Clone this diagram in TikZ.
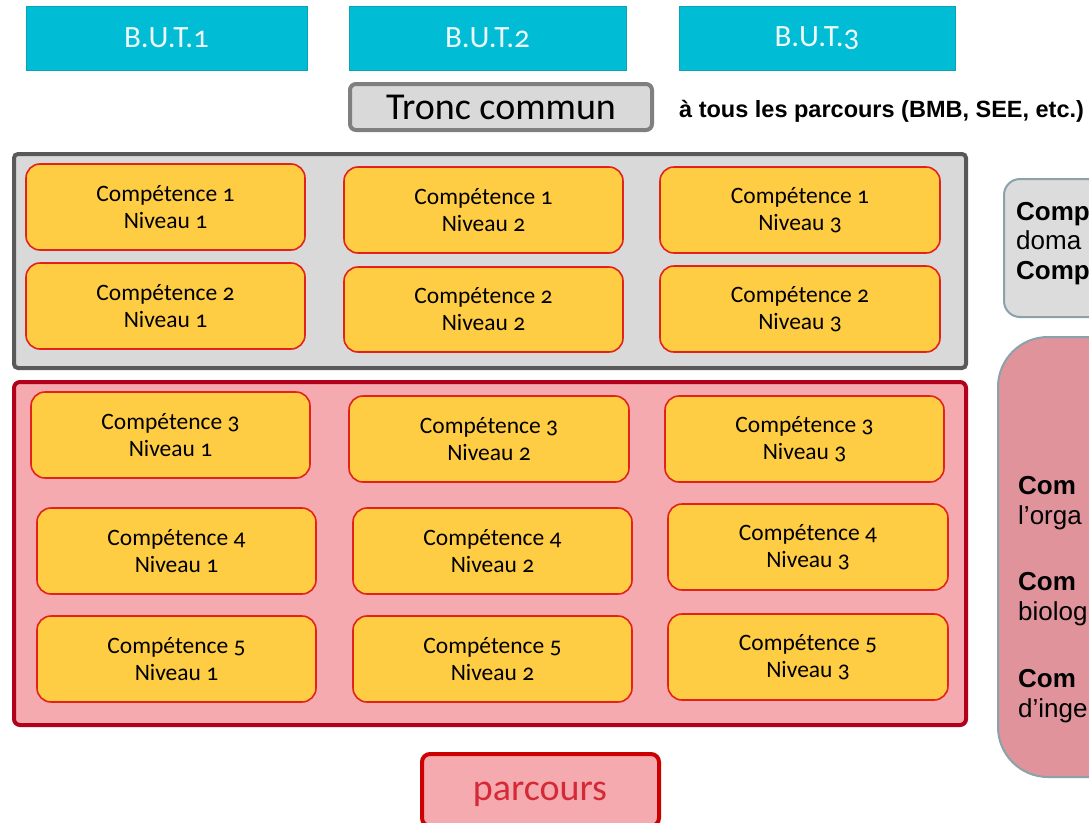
\documentclass[tikz,border=0pt]{standalone}
\usepackage{fontspec}
\setmainfont{Carlito}[Numbers=OldStyle]
\newfontfamily\arialf{Liberation Sans}
\definecolor{butcyan}{HTML}{00BCD4}
\definecolor{butedge}{HTML}{0AA3B5}
\definecolor{butfont}{HTML}{EEF8FA}
\definecolor{tcgrey}{HTML}{D9D9D9}
\definecolor{tcedge}{HTML}{7F7F7F}
\definecolor{grpedge}{HTML}{595959}
\definecolor{pinkfill}{HTML}{F5AAB0}
\definecolor{pinkedge}{HTML}{B3001B}
\definecolor{compfill}{HTML}{FFCD44}
\definecolor{compedge}{HTML}{E3231B}
\definecolor{parcedge}{HTML}{CC0000}
\definecolor{parctext}{HTML}{D42A36}
\definecolor{sidegrey}{HTML}{DCDCDC}
\definecolor{sideedge}{HTML}{8AA3AA}
\definecolor{siderose}{HTML}{E0939B}
\newcommand\rbox[7]{%
  \node[#2, minimum width={(#5-#3)*1pt}, minimum height={(#6-#4)*1pt}] (#1) at ({(#3+#5)/2},{(#4+#6)/2}) {#7};}
\newcommand\sidereg{\arialf\fontsize{26}{29}\selectfont}
\newcommand\sidebold{\arialf\bfseries\fontsize{26}{29}\selectfont}
\tikzset{
  base/.style={draw, inner sep=0pt, outer sep=0pt, align=center},
  butbox/.style={base, fill=butcyan, draw=butedge, line width=0.8pt, text=butfont, font=\fontsize{31}{34}\selectfont},
  troncbox/.style={base, fill=tcgrey, draw=tcedge, line width=4pt, rounded corners=6pt, font=\fontsize{38}{40}\selectfont},
  grpgrey/.style={base, fill=tcgrey, draw=grpedge, line width=4pt, rounded corners=4pt},
  grppink/.style={base, fill=pinkfill, draw=pinkedge, line width=4pt, rounded corners=6pt},
  compbox/.style={base, fill=compfill, draw=compedge, line width=1.6pt, rounded corners=14pt, font=\fontsize{23.5}{27}\selectfont},
  parcbox/.style={base, fill=pinkfill, draw=parcedge, line width=4pt, rounded corners=8pt},
  sidebox1/.style={base, fill=sidegrey, draw=sideedge, line width=2pt, rounded corners=16pt},
  sidebox2/.style={base, fill=siderose, draw=sideedge, line width=2pt, rounded corners=50pt},
  sidetxt/.style={anchor=base west, inner sep=0pt, font=\sidereg},
  sidetxtb/.style={anchor=base west, inner sep=0pt, font=\sidebold},
}
\begin{document}
\begin{tikzpicture}[x=1pt,y=-1pt]
\useasboundingbox (0,0) rectangle (1089,822);
\clip (0,0) rectangle (1089,822);
\fill[white] (0,0) rectangle (1089,822);
% year headers
\rbox{but1}{butbox}{26}{6}{307}{70}{B.U.T.1}
\rbox{but2}{butbox}{349}{6}{626}{70}{B.U.T.2}
\rbox{but3}{butbox}{679}{6}{955}{70}{B.U.T.3}
% tronc commun
\rbox{tronc}{troncbox}{350}{84}{652}{130}{Tronc commun}
\node[anchor=base west, inner sep=0pt, font=\arialf\bfseries\fontsize{23.5}{26}\selectfont] (tous) at (679,117) {à tous les parcours (BMB, SEE, etc.)};
% containers
\rbox{grey}{grpgrey}{14}{154}{966}{368}{}
\rbox{pink}{grppink}{14}{382}{966}{725}{}
% competences 1-2
\rbox{c11}{compbox}{26}{164}{305}{250}{Compétence 1\\Niveau 1}
\rbox{c12}{compbox}{344}{167}{623}{253}{Compétence 1\\Niveau 2}
\rbox{c13}{compbox}{660}{167}{940}{253}{Compétence 1\\Niveau 3}
\rbox{c21}{compbox}{26}{263}{305}{349}{Compétence 2\\Niveau 1}
\rbox{c22}{compbox}{344}{267}{623}{352}{Compétence 2\\Niveau 2}
\rbox{c23}{compbox}{660}{266}{940}{352}{Compétence 2\\Niveau 3}
% competences 3-5
\rbox{c31}{compbox}{31}{392}{310}{478}{Compétence 3\\Niveau 1}
\rbox{c32}{compbox}{349}{396}{629}{482}{Compétence 3\\Niveau 2}
\rbox{c33}{compbox}{665}{396}{944}{482}{Compétence 3\\Niveau 3}
\rbox{c41}{compbox}{37}{508}{316}{594}{Compétence 4\\Niveau 1}
\rbox{c42}{compbox}{353}{508}{632}{594}{Compétence 4\\Niveau 2}
\rbox{c43}{compbox}{668}{504}{948}{590}{Compétence 4\\Niveau 3}
\rbox{c51}{compbox}{37}{616}{316}{702}{Compétence 5\\Niveau 1}
\rbox{c52}{compbox}{353}{616}{632}{702}{Compétence 5\\Niveau 2}
\rbox{c53}{compbox}{668}{614}{948}{700}{Compétence 5\\Niveau 3}
% parcours
\rbox{parc}{parcbox}{422}{754}{659}{826}{}
\node[text=parctext, inner sep=0pt, font=\fontsize{38}{40}\selectfont] (parct) at (540,794) {parcours};
% right side (cut by the page edge)
\rbox{side1}{sidebox1}{1004}{179}{1120}{317}{}
\node[sidetxtb] (s1a) at (1016,220) {Comp};
\node[sidetxt] (s1b) at (1016,249) {doma};
\node[sidetxtb] (s1c) at (1016,279) {Comp};
\rbox{side2}{sidebox2}{998}{337}{1140}{777}{}
\node[sidetxtb] (s2a) at (1018,494) {Com};
\node[sidetxt] (s2b) at (1018,524) {l’orga};
\node[sidetxtb] (s2c) at (1018,590) {Com};
\node[sidetxt] (s2d) at (1018,620) {biolog};
\node[sidetxtb] (s2e) at (1018,687) {Com};
\node[sidetxt] (s2f) at (1018,717) {d’inge};
\end{tikzpicture}
\end{document}
